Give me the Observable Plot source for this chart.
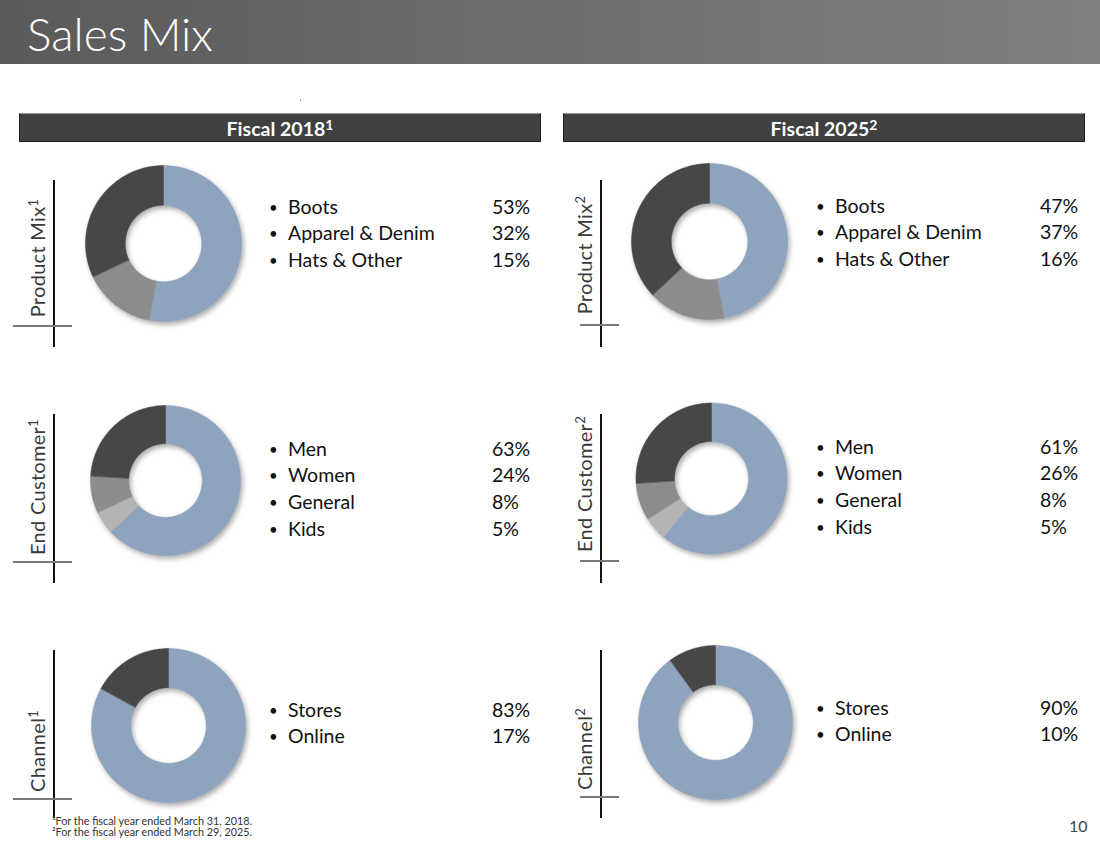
<!DOCTYPE html>
<html>
<head>
<meta charset="utf-8">
<script src="https://cdn.jsdelivr.net/npm/d3@7"></script>
<script src="https://cdn.jsdelivr.net/npm/@observablehq/plot@0.6"></script>
<style>
  html, body { margin: 0; padding: 0; background: #fff; }
  body { width: 1100px; height: 849px; position: relative; overflow: hidden; font-family: Lato, "Open Sans", sans-serif; }
  .abs { position: absolute; }
  #band { left: 0; top: 0; width: 1100px; height: 64px; background: linear-gradient(90deg, #5a5a5a 0%, #6e6e6e 50%, #808080 100%); }
  #title { left: 27px; top: 8px; font-size: 46px; font-weight: 300; color: #fff; line-height: 52px; }
  .panel { top: 113px; height: 29px; width: 522px; background: #404040; border: 1px solid #1e1e1e; border-top-color: #9a9a9a; color: #fff; font-weight: bold; font-size: 19.5px; text-align: center; line-height: 29px; box-sizing: border-box; }
  .rowlab { font-size: 20px; color: #3a3a3a; white-space: nowrap; transform: translate(-50%, -50%) rotate(-90deg); line-height: 22px; letter-spacing: 0.3px; }
  .vline { width: 1.4px; background: #111; }
  .hline { height: 1.6px; background: #7a7a7a; }
  .leg { font-size: 19.5px; color: #111; line-height: 26.7px; white-space: nowrap; }
  .bul { font-size: 15px; color: #111; line-height: 20px; }
  .foot { left: 52px; font-size: 10.8px; color: #333; line-height: 11px; }
  #page { left: 1069px; top: 816px; font-size: 16px; color: #444; }
</style>
</head>
<body>
<div id="band" class="abs"></div>
<div id="title" class="abs">Sales Mix</div>
<div class="abs" style="left:300px;top:100px;width:1px;height:1px;background:#555"></div>
<div id="root"></div>
<div class="abs foot" style="top:815px">¹For the fiscal year ended March 31, 2018.</div>
<div class="abs foot" style="top:826px">²For the fiscal year ended March 29, 2025.</div>
<div id="page" class="abs">10</div>
<script>
// ---------------- data ----------------
const years = ["Fiscal 2018", "Fiscal 2025"];
const rowTitles = ["Product Mix", "End Customer", "Channel"];

const products = ["Boots", "Apparel & Denim", "Hats & Other"];
const product2018 = [53, 32, 15];
const product2025 = [47, 37, 16];
const productSliceOrder = ["Boots", "Hats & Other", "Apparel & Denim"];

const customers = ["Men", "Women", "General", "Kids"];
const customer2018 = [63, 24, 8, 5];
const customer2025 = [61, 26, 8, 5];
const customerSliceOrder = ["Men", "Kids", "General", "Women"];

const channels = ["Stores", "Online"];
const channel2018 = [83, 17];
const channel2025 = [90, 10];
const channelSliceOrder = ["Stores", "Online"];

// ---------------- styles / layout ----------------
const colorOf = {
  "Boots": "#8ea3be", "Men": "#8ea3be", "Stores": "#8ea3be",
  "Apparel & Denim": "#474747", "Women": "#474747", "Online": "#474747",
  "Hats & Other": "#8c8c8c", "General": "#8c8c8c",
  "Kids": "#b4b4b4"
};

const rows = [
  {cats: products, vals: [product2018, product2025], order: productSliceOrder,
   donut: [[163, 243], [709, 241]], legTop: [207, 206], lab: [258, 255], vline: [180, 347], hline: [326, 325], R: [78, 78]},
  {cats: customers, vals: [customer2018, customer2025], order: customerSliceOrder,
   donut: [[165, 480], [711, 478]], legTop: [449, 447], lab: [487, 484], vline: [414, 583], hline: [562, 561], R: [75, 75.5]},
  {cats: channels, vals: [channel2018, channel2025], order: channelSliceOrder,
   donut: [[168, 725], [715, 722]], legTop: [710, 708], lab: [751, 749], vline: [650, 818], hline: [799, 797], R: [77, 77]}
];
const colX = [
  {panel: 19, vline: 54, hline: [13, 72], lab: 38, bullet: 269, name: 288, pct: 492},
  {panel: 563, vline: 601, hline: [580, 619], lab: 585, bullet: 816, name: 835, pct: 1040}
];
const innerRatio = 0.49;
const root = document.getElementById("root");

function el(tag, cls, style, text) {
  const e = document.createElement(tag);
  if (cls) e.className = cls;
  if (style) e.setAttribute("style", style);
  if (text != null) e.textContent = text;
  root.appendChild(e);
  return e;
}

// donut polygon points from d3.pie angles
function slicePoints(cats, vals, order, R) {
  const table = order.map(c => ({cat: c, value: vals[cats.indexOf(c)]}));
  const arcs = d3.pie().value(d => d.value).sort(null)(table);
  const pts = [];
  const r0 = R * innerRatio;
  for (const a of arcs) {
    const n = Math.max(4, Math.ceil((a.endAngle - a.startAngle) / 0.02));
    for (let i = 0; i <= n; i++) {
      const t = a.startAngle + (a.endAngle - a.startAngle) * i / n;
      pts.push({cat: a.data.cat, x: R * Math.sin(t), y: R * Math.cos(t)});
    }
    for (let i = n; i >= 0; i--) {
      const t = a.startAngle + (a.endAngle - a.startAngle) * i / n;
      pts.push({cat: a.data.cat, x: r0 * Math.sin(t), y: r0 * Math.cos(t)});
    }
  }
  return pts;
}

years.forEach((y, ci) => {
  const c = colX[ci];
  const p = el("div", "abs panel", `left:${c.panel}px`);
  p.innerHTML = `${y}<span style="font-size:14px;position:relative;top:-6px">${ci === 0 ? "1" : "2"}</span>`;
});

const S = 200; // plot box size in px; domain is in pixel units
rows.forEach((row, ri) => {
  years.forEach((y, ci) => {
    const c = colX[ci];
    el("div", "abs vline", `left:${c.vline - 0.7}px;top:${row.vline[0]}px;height:${row.vline[1] - row.vline[0]}px`);
    el("div", "abs hline", `left:${c.hline[0]}px;top:${row.hline[ci] - 0.8}px;width:${c.hline[1] - c.hline[0]}px`);
    const lab = el("div", "abs rowlab", `left:${c.lab}px;top:${row.lab[ci]}px`);
    lab.innerHTML = `${rowTitles[ri]}<span style="font-size:13px;position:relative;top:-7px">${ci === 0 ? "1" : "2"}</span>`;

    const R = row.R[ci];
    const pts = slicePoints(row.cats, row.vals[ci], row.order, R);
    const chart = Plot.plot({
      width: S, height: S, margin: 0,
      x: {domain: [-S / 2, S / 2], axis: null},
      y: {domain: [-S / 2, S / 2], axis: null},
      color: {domain: row.cats, range: row.cats.map(k => colorOf[k])},
      style: {background: "transparent", overflow: "visible", filter: "drop-shadow(2px 3px 2.5px rgba(0,0,0,0.32))"},
      marks: [
        Plot.line(pts, {x: "x", y: "y", z: "cat", fill: "cat", stroke: "cat", strokeWidth: 0.5, curve: "linear-closed"})
      ]
    });
    const wrap = el("div", "abs", `left:${row.donut[ci][0] - S / 2}px;top:${row.donut[ci][1] - S / 2}px;width:${S}px;height:${S}px`);
    wrap.appendChild(chart);

    row.cats.forEach((cat, k) => {
      const cy = row.legTop[ci] + k * 26.7;
      el("div", "abs bul", `left:${c.bullet}px;top:${cy - 10.5}px`, "•");
      el("div", "abs leg", `left:${c.name}px;top:${cy - 13.5}px`, cat);
      el("div", "abs leg", `left:${c.pct}px;top:${cy - 13.5}px`, row.vals[ci][k] + "%");
    });
  });
});
</script>
</body>
</html>
